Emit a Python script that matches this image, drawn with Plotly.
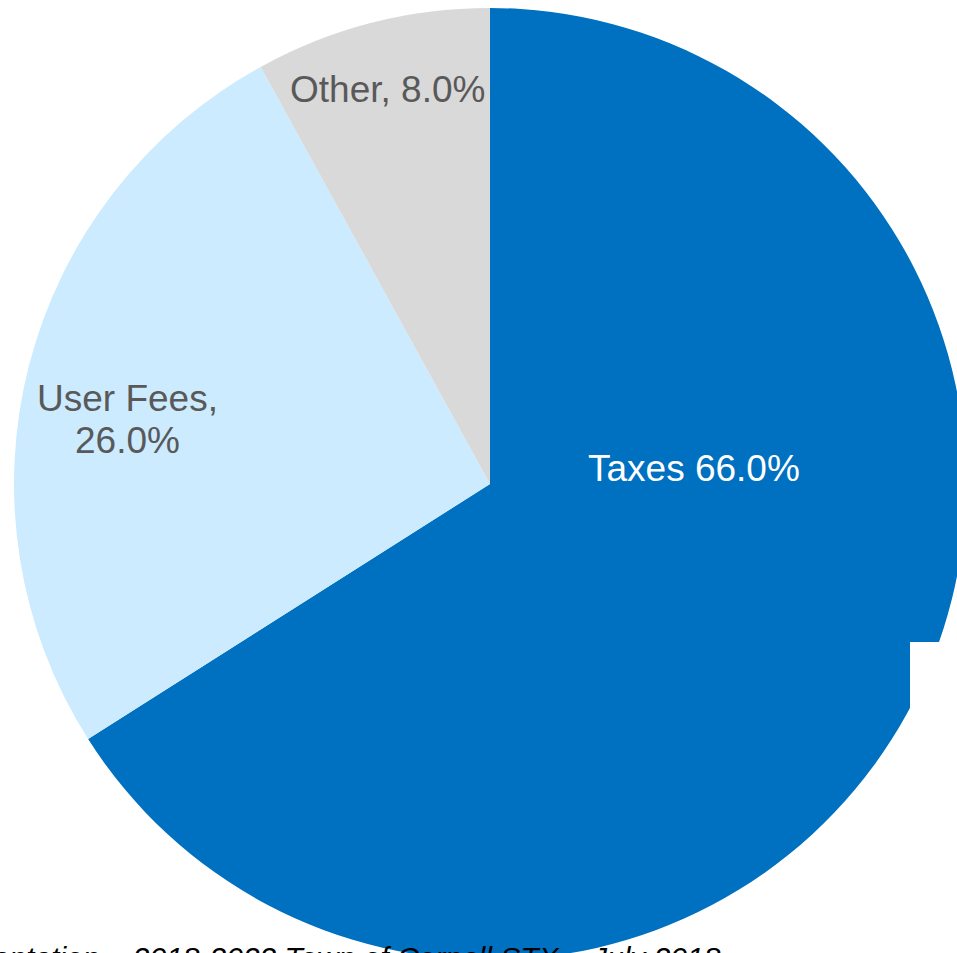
import plotly.graph_objects as go

# Revenue shares
categories = ["Taxes", "User Fees", "Other"]
shares = [66.0, 26.0, 8.0]
slice_colors = ["#0070C0", "#CCEBFF", "#D9D9D9"]
label_templates = ["{c} {v:.1f}%", "{c},\n{v:.1f}%", "{c}, {v:.1f}%"]
label_colors = ["#FFFFFF", "#595959", "#595959"]
source_note = "Presentation – 2018-2022 Town of Cornell STX – July 2018"

W, H = 980, 970  # canvas is slightly larger than the window; the pie runs off the right edge


def px_x(x):
    return x / W


def px_y(y):
    return (H - y) / H


# pie disc: centre (490, 484), radius 476 in page pixels
cx, cy, r = 490, 484, 476

fig = go.Figure(
    go.Pie(
        labels=categories,
        values=shares,
        sort=False,
        direction="clockwise",
        rotation=0,
        marker=dict(colors=slice_colors, line=dict(width=0)),
        textinfo="none",
        hoverinfo="label+percent",
        showlegend=False,
        domain=dict(x=[px_x(cx - r), px_x(cx + r)], y=[px_y(cy + r), px_y(cy - r)]),
    )
)

# slice labels placed inside each slice (multi-line labels stacked 42 px apart)
label_pos = [(694, 469), (127, 419), (387, 89)]
line_gap = 42
annotations = []
for c, v, tpl, col, (lx, ly) in zip(categories, shares, label_templates, label_colors, label_pos):
    lines = tpl.format(c=c, v=v).split("\n")
    top = ly - line_gap * (len(lines) - 1) / 2
    for i, line in enumerate(lines):
        annotations.append(
            dict(
                text=line,
                x=px_x(lx),
                y=px_y(top + i * line_gap),
                xref="paper",
                yref="paper",
                xanchor="center",
                yanchor="middle",
                showarrow=False,
                font=dict(family="Liberation Sans, Arial, sans-serif", size=37, color=col),
            )
        )

# source line along the bottom edge
annotations.append(
    dict(
        text="<i>" + source_note + "</i>",
        x=px_x(-71),
        y=px_y(939),
        xref="paper",
        yref="paper",
        xanchor="left",
        yanchor="top",
        showarrow=False,
        font=dict(family="Liberation Sans, Arial, sans-serif", size=30, color="#000000"),
    )
)

fig.update_layout(
    width=W,
    height=H,
    autosize=False,
    margin=dict(l=0, r=0, t=0, b=0, pad=0),
    paper_bgcolor="white",
    plot_bgcolor="white",
    annotations=annotations,
    shapes=[
        dict(
            type="rect",
            xref="paper",
            yref="paper",
            x0=px_x(910),
            x1=1.0,
            y0=0.0,
            y1=px_y(642),
            fillcolor="white",
            line=dict(width=0),
            layer="above",
        )
    ],
)

fig.write_html(
    "out.html",
    config={"displayModeBar": False},
    post_script="document.documentElement.style.overflow='hidden';document.body.style.overflow='hidden';document.body.style.margin='0';",
)
